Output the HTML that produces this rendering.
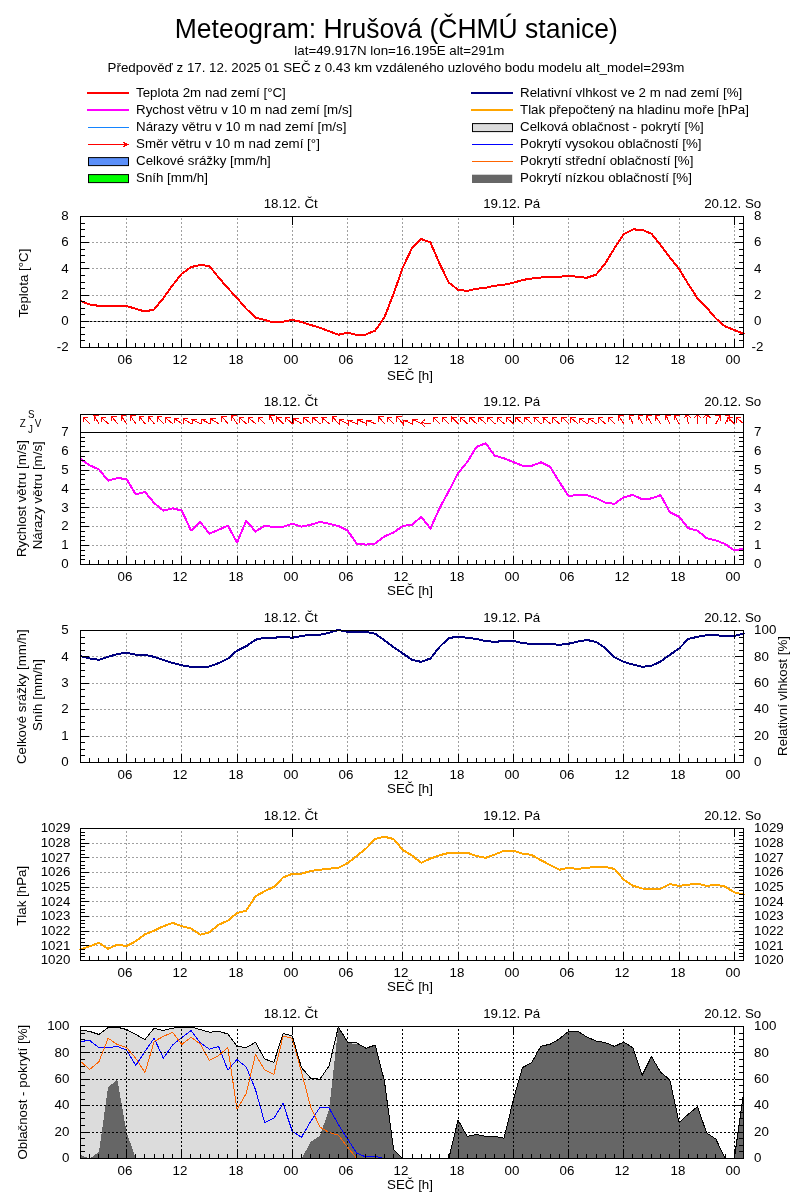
<!DOCTYPE html>
<html><head><meta charset="utf-8"><title>Meteogram: Hrušová (ČHMÚ stanice)</title>
<style>
html,body{margin:0;padding:0;background:#fff;}
svg{display:block;}
svg text{font-family:"Liberation Sans", "DejaVu Sans", sans-serif;fill:#000;}
</style></head><body>
<svg width="800" height="1200" viewBox="0 0 800 1200">
<rect width="800" height="1200" fill="#fff"/>
<text transform="translate(396.3,37.8) scale(1,1.045)" x="0" y="0" font-size="26.5" text-anchor="middle">Meteogram: Hrušová (ČHMÚ stanice)</text>
<text x="399.40" y="54.50" font-size="13.33" text-anchor="middle">lat=49.917N lon=16.195E alt=291m</text>
<text x="396.00" y="72.00" font-size="13.33" text-anchor="middle">Předpověď z 17. 12. 2025 01 SEČ z 0.43 km vzdáleného uzlového bodu modelu alt_model=293m</text>
<line x1="87" y1="93" x2="129" y2="93" stroke="#ff0000" stroke-width="2"/>
<line x1="87" y1="110" x2="129" y2="110" stroke="#ff00ff" stroke-width="2"/>
<line x1="88" y1="127.5" x2="129" y2="127.5" stroke="#1484ff" stroke-width="1"/>
<line x1="88" y1="144.5" x2="129" y2="144.5" stroke="#ff0000" stroke-width="1"/>
<path d="M123,142 L125,142 L125,143 L127,143 L127,146 L125,146 L125,147 L123,147 L123,146 L124,145.5 L124,143.5 L123,143 Z" fill="#ff0000" stroke="none" shape-rendering="crispEdges"/>
<rect x="88.5" y="157.6" width="40" height="8" fill="#5b8ff9" stroke="#000" stroke-width="1"/>
<rect x="88.5" y="174.6" width="40" height="8" fill="#00ff00" stroke="#000" stroke-width="1"/>
<line x1="471" y1="93" x2="513" y2="93" stroke="#000080" stroke-width="2"/>
<line x1="471" y1="110" x2="513" y2="110" stroke="#ffa500" stroke-width="2"/>
<rect x="472.5" y="123.6" width="40" height="8" fill="#dcdcdc" stroke="#000" stroke-width="1"/>
<line x1="472" y1="144.5" x2="513" y2="144.5" stroke="#0000ff" stroke-width="1"/>
<line x1="472" y1="161.5" x2="513" y2="161.5" stroke="#ff6400" stroke-width="1"/>
<rect x="472" y="174.7" width="40.2" height="8.3" fill="#666666"/>
<text x="136.00" y="96.60" font-size="13.33" text-anchor="start">Teplota 2m nad zemí [°C]</text>
<text x="136.00" y="113.60" font-size="13.33" text-anchor="start">Rychost větru v 10 m nad zemí [m/s]</text>
<text x="136.00" y="130.60" font-size="13.33" text-anchor="start">Nárazy větru v 10 m nad zemí [m/s]</text>
<text x="136.00" y="147.60" font-size="13.33" text-anchor="start">Směr větru v 10 m nad zemí [°]</text>
<text x="136.00" y="164.60" font-size="13.33" text-anchor="start">Celkové srážky [mm/h]</text>
<text x="136.00" y="181.60" font-size="13.33" text-anchor="start">Sníh [mm/h]</text>
<text x="520.00" y="96.60" font-size="13.33" text-anchor="start">Relativní vlhkost ve 2 m nad zemí [%]</text>
<text x="520.00" y="113.60" font-size="13.33" text-anchor="start">Tlak přepočtený na hladinu moře [hPa]</text>
<text x="520.00" y="130.60" font-size="13.33" text-anchor="start">Celková oblačnost - pokrytí [%]</text>
<text x="520.00" y="147.60" font-size="13.33" text-anchor="start">Pokrytí vysokou oblačností [%]</text>
<text x="520.00" y="164.60" font-size="13.33" text-anchor="start">Pokrytí střední oblačností [%]</text>
<text x="520.00" y="181.60" font-size="13.33" text-anchor="start">Pokrytí nízkou oblačností [%]</text>
<g>
<path d="M126.5,348V216.5M181.5,348V216.5M237.5,348V216.5M292.5,348V216.5M347.5,348V216.5M402.5,348V216.5M458.5,348V216.5M513.5,348V216.5M568.5,348V216.5M623.5,348V216.5M679.5,348V216.5M734.5,348V216.5M80,321.5H743.5M80,295.5H743.5M80,268.5H743.5M80,242.5H743.5" stroke="#a0a0a0" stroke-width="1" stroke-dasharray="2 2" fill="none"/>
<path d="M82,321.5H743.5" stroke="#000" stroke-width="1" stroke-dasharray="2 2"/>
<clipPath id="c1"><rect x="77" y="216" width="670" height="132"/></clipPath>
<polyline points="80.50,301.00 89.71,304.40 98.92,305.90 108.12,305.90 117.33,305.90 126.54,306.10 135.75,308.70 144.96,311.60 154.17,309.40 163.38,298.10 172.58,285.30 181.79,273.75 191.00,267.10 200.21,265.00 209.42,266.00 218.62,277.50 227.83,288.10 237.04,298.10 246.25,308.75 255.46,317.50 264.67,320.00 273.88,322.50 283.08,321.60 292.29,320.00 301.50,321.90 310.71,325.00 319.92,327.75 329.12,331.25 338.33,334.75 347.54,332.75 356.75,334.90 365.96,334.50 375.17,330.60 384.38,317.50 393.58,293.75 402.79,267.50 412.00,248.10 421.21,239.00 430.42,242.50 439.62,263.75 448.83,282.60 458.04,289.75 467.25,290.90 476.46,288.75 485.67,287.75 494.88,285.75 504.08,284.75 513.29,282.75 522.50,280.00 531.71,278.50 540.92,277.50 550.12,276.90 559.33,276.90 568.54,275.60 577.75,276.90 586.96,277.75 596.17,274.60 605.38,263.10 614.58,248.10 623.79,234.00 633.00,229.40 642.21,229.80 651.42,233.70 660.62,245.20 669.83,257.40 679.04,268.90 688.25,284.00 697.46,298.30 706.67,307.70 715.88,318.50 725.08,326.40 734.29,330.00 743.50,333.60" fill="none" stroke="#ff0000" stroke-width="2" stroke-linejoin="round" stroke-linecap="round" shape-rendering="crispEdges" clip-path="url(#c1)"/>
<path d="M89.5,347.5v-4.5M98.5,347.5v-4.5M108.5,347.5v-4.5M117.5,347.5v-4.5M126.5,347.5v-8.5M135.5,347.5v-4.5M144.5,347.5v-4.5M154.5,347.5v-4.5M163.5,347.5v-4.5M172.5,347.5v-4.5M181.5,347.5v-8.5M190.5,347.5v-4.5M200.5,347.5v-4.5M209.5,347.5v-4.5M218.5,347.5v-4.5M227.5,347.5v-4.5M237.5,347.5v-8.5M246.5,347.5v-4.5M255.5,347.5v-4.5M264.5,347.5v-4.5M273.5,347.5v-4.5M283.5,347.5v-4.5M292.5,347.5v-8.5M301.5,347.5v-4.5M310.5,347.5v-4.5M319.5,347.5v-4.5M329.5,347.5v-4.5M338.5,347.5v-4.5M347.5,347.5v-8.5M356.5,347.5v-4.5M365.5,347.5v-4.5M375.5,347.5v-4.5M384.5,347.5v-4.5M393.5,347.5v-4.5M402.5,347.5v-8.5M412.5,347.5v-4.5M421.5,347.5v-4.5M430.5,347.5v-4.5M439.5,347.5v-4.5M448.5,347.5v-4.5M458.5,347.5v-8.5M467.5,347.5v-4.5M476.5,347.5v-4.5M485.5,347.5v-4.5M494.5,347.5v-4.5M504.5,347.5v-4.5M513.5,347.5v-8.5M522.5,347.5v-4.5M531.5,347.5v-4.5M540.5,347.5v-4.5M550.5,347.5v-4.5M559.5,347.5v-4.5M568.5,347.5v-8.5M577.5,347.5v-4.5M586.5,347.5v-4.5M596.5,347.5v-4.5M605.5,347.5v-4.5M614.5,347.5v-4.5M623.5,347.5v-8.5M632.5,347.5v-4.5M642.5,347.5v-4.5M651.5,347.5v-4.5M660.5,347.5v-4.5M669.5,347.5v-4.5M679.5,347.5v-8.5M688.5,347.5v-4.5M697.5,347.5v-4.5M706.5,347.5v-4.5M715.5,347.5v-4.5M725.5,347.5v-4.5M734.5,347.5v-8.5M292.5,216.5v8.5M513.5,216.5v8.5M734.5,216.5v8.5M80.5,340.5h4.5M743.5,340.5h-4.5M80.5,334.5h4.5M743.5,334.5h-4.5M80.5,327.5h4.5M743.5,327.5h-4.5M80.5,321.5h8.5M743.5,321.5h-8.5M80.5,314.5h4.5M743.5,314.5h-4.5M80.5,308.5h4.5M743.5,308.5h-4.5M80.5,301.5h4.5M743.5,301.5h-4.5M80.5,295.5h8.5M743.5,295.5h-8.5M80.5,288.5h4.5M743.5,288.5h-4.5M80.5,282.5h4.5M743.5,282.5h-4.5M80.5,275.5h4.5M743.5,275.5h-4.5M80.5,268.5h8.5M743.5,268.5h-8.5M80.5,262.5h4.5M743.5,262.5h-4.5M80.5,255.5h4.5M743.5,255.5h-4.5M80.5,249.5h4.5M743.5,249.5h-4.5M80.5,242.5h8.5M743.5,242.5h-8.5M80.5,236.5h4.5M743.5,236.5h-4.5M80.5,229.5h4.5M743.5,229.5h-4.5M80.5,223.5h4.5M743.5,223.5h-4.5" stroke="#000" stroke-width="1" fill="none"/>
<rect x="80.5" y="216.5" width="663" height="131" fill="none" stroke="#000" stroke-width="1"/>
<text x="68.60" y="351.20" font-size="13.33" text-anchor="end">-2</text>
<text x="68.60" y="325.00" font-size="13.33" text-anchor="end">0</text>
<text x="68.60" y="298.80" font-size="13.33" text-anchor="end">2</text>
<text x="68.60" y="272.60" font-size="13.33" text-anchor="end">4</text>
<text x="68.60" y="246.40" font-size="13.33" text-anchor="end">6</text>
<text x="68.60" y="220.20" font-size="13.33" text-anchor="end">8</text>
<text x="751.50" y="351.20" font-size="13.33" text-anchor="start">-2</text>
<text x="754.10" y="325.00" font-size="13.33" text-anchor="start">0</text>
<text x="754.10" y="298.80" font-size="13.33" text-anchor="start">2</text>
<text x="754.10" y="272.60" font-size="13.33" text-anchor="start">4</text>
<text x="754.10" y="246.40" font-size="13.33" text-anchor="start">6</text>
<text x="754.10" y="220.20" font-size="13.33" text-anchor="start">8</text>
<text x="125.00" y="363.70" font-size="13.33" text-anchor="middle">06</text>
<text x="180.00" y="363.70" font-size="13.33" text-anchor="middle">12</text>
<text x="236.00" y="363.70" font-size="13.33" text-anchor="middle">18</text>
<text x="291.00" y="363.70" font-size="13.33" text-anchor="middle">00</text>
<text x="346.00" y="363.70" font-size="13.33" text-anchor="middle">06</text>
<text x="401.00" y="363.70" font-size="13.33" text-anchor="middle">12</text>
<text x="457.00" y="363.70" font-size="13.33" text-anchor="middle">18</text>
<text x="512.00" y="363.70" font-size="13.33" text-anchor="middle">00</text>
<text x="567.00" y="363.70" font-size="13.33" text-anchor="middle">06</text>
<text x="622.00" y="363.70" font-size="13.33" text-anchor="middle">12</text>
<text x="678.00" y="363.70" font-size="13.33" text-anchor="middle">18</text>
<text x="733.00" y="363.70" font-size="13.33" text-anchor="middle">00</text>
<text x="410.00" y="379.70" font-size="13.33" text-anchor="middle">SEČ [h]</text>
<text x="290.70" y="208.00" font-size="13.33" text-anchor="middle">18.12. Čt</text>
<text x="511.70" y="208.00" font-size="13.33" text-anchor="middle">19.12. Pá</text>
<text x="732.70" y="208.00" font-size="13.33" text-anchor="middle">20.12. So</text>
<text transform="translate(28.3,283.1) rotate(-90)" x="0" y="0" font-size="13.33" text-anchor="middle">Teplota [°C]</text>
<path d="M126.5,565V414.5M181.5,565V414.5M237.5,565V414.5M292.5,565V414.5M347.5,565V414.5M402.5,565V414.5M458.5,565V414.5M513.5,565V414.5M568.5,565V414.5M623.5,565V414.5M679.5,565V414.5M734.5,565V414.5M80,545.5H743.5M80,526.5H743.5M80,507.5H743.5M80,489.5H743.5M80,470.5H743.5M80,451.5H743.5" stroke="#a0a0a0" stroke-width="1" stroke-dasharray="2 2" fill="none"/>
<clipPath id="c2"><rect x="77" y="432" width="670" height="133"/></clipPath>
<polyline points="80.50,459.00 89.71,465.25 98.92,469.40 108.12,480.60 117.33,478.10 126.54,479.00 135.75,494.40 144.96,491.90 154.17,503.10 163.38,510.60 172.58,508.30 181.79,510.60 191.00,530.60 200.21,521.90 209.42,533.75 218.62,529.75 227.83,525.60 237.04,542.50 246.25,520.60 255.46,531.50 264.67,525.90 273.88,526.90 283.08,526.90 292.29,523.75 301.50,526.60 310.71,524.75 319.92,521.90 329.12,523.75 338.33,526.00 347.54,530.60 356.75,543.60 365.96,544.60 375.17,543.50 384.38,536.50 393.58,532.50 402.79,526.00 412.00,524.75 421.21,516.90 430.42,528.50 439.62,508.10 448.83,491.00 458.04,473.25 467.25,462.00 476.46,447.00 485.67,443.25 494.88,455.75 504.08,458.25 513.29,462.00 522.50,465.75 531.71,465.75 540.92,462.30 550.12,466.90 559.33,481.90 568.54,496.00 577.75,495.00 586.96,495.25 596.17,498.10 605.38,502.75 614.58,503.75 623.79,497.25 633.00,494.90 642.21,499.40 651.42,498.40 660.62,495.10 669.83,512.30 679.04,516.70 688.25,528.20 697.46,530.60 706.67,538.20 715.88,540.40 725.08,544.00 734.29,550.40 743.50,548.70" fill="none" stroke="#ff00ff" stroke-width="2" stroke-linejoin="round" stroke-linecap="round" shape-rendering="crispEdges" clip-path="url(#c2)"/>
<path d="M83.13,417.02L85.20,417.02L83.13,419.09ZM94.13,415.63L96.20,415.63L94.13,417.70ZM101.21,417.38L103.28,417.38L101.21,419.45ZM111.61,416.27L113.68,416.27L111.61,418.34ZM121.21,415.98L123.28,415.98L121.21,418.05ZM130.42,415.98L132.49,415.98L130.42,418.05ZM139.23,416.27L141.30,416.27L139.23,418.34ZM148.19,416.48L150.26,416.48L148.19,418.55ZM157.15,416.69L159.22,416.69L157.15,418.76ZM165.46,417.62L167.53,417.62L165.46,419.69ZM174.17,418.27L176.24,418.27L174.17,420.34ZM183.11,418.67L185.18,418.67L183.11,420.74ZM192.00,419.23L194.07,419.23L192.00,421.30ZM201.21,419.23L203.28,419.23L201.21,421.30ZM210.57,418.95L212.64,418.95L210.57,421.02ZM221.86,416.48L223.93,416.48L221.86,418.55ZM231.71,415.98L233.78,415.98L231.71,418.05ZM239.13,417.62L241.20,417.62L239.13,419.69ZM248.33,417.62L250.40,417.62L248.33,419.69ZM258.09,417.02L260.16,417.02L258.09,419.09ZM269.94,415.17L272.01,415.17L269.94,417.24ZM276.51,417.02L278.58,417.02L276.51,419.09ZM285.38,417.38L287.45,417.38L285.38,419.45ZM293.53,418.81L295.60,418.81L293.53,420.88ZM303.58,417.62L305.65,417.62L303.58,419.69ZM312.79,417.62L314.86,417.62L312.79,419.69ZM322.00,417.62L324.07,417.62L322.00,419.69ZM332.36,416.48L334.43,416.48L332.36,418.55ZM339.11,419.67L341.18,419.67L339.11,421.74ZM348.01,420.42L350.08,420.42L348.01,422.49ZM357.53,419.67L359.60,419.67L357.53,421.74ZM366.43,420.42L368.50,420.42L366.43,422.49ZM378.40,416.48L380.47,416.48L378.40,418.55ZM387.01,417.02L389.08,417.02L387.01,419.09ZM396.81,416.48L398.88,416.48L396.81,418.55ZM403.26,420.42L405.33,420.42L403.26,422.49ZM412.78,419.67L414.85,419.67L412.78,421.74ZM421.15,422.79L422.48,424.38L422.74,421.46ZM433.05,417.02L435.12,417.02L433.05,419.09ZM442.26,417.02L444.33,417.02L442.26,419.09ZM451.47,417.02L453.54,417.02L451.47,419.09ZM460.34,417.38L462.41,417.38L460.34,419.45ZM469.55,417.38L471.62,417.38L469.55,419.45ZM478.76,417.38L480.83,417.38L478.76,419.45ZM487.96,417.38L490.03,417.38L487.96,419.45ZM497.17,417.38L499.24,417.38L497.17,419.45ZM506.38,417.38L508.45,417.38L506.38,419.45ZM515.59,417.38L517.66,417.38L515.59,419.45ZM524.80,417.38L526.87,417.38L524.80,419.45ZM534.01,417.38L536.08,417.38L534.01,419.45ZM543.00,417.62L545.07,417.62L543.00,419.69ZM552.21,417.62L554.28,417.62L552.21,419.69ZM561.97,417.02L564.04,417.02L561.97,419.09ZM570.63,417.62L572.70,417.62L570.63,419.69ZM579.34,418.27L581.41,418.27L579.34,420.34ZM588.55,418.27L590.62,418.27L588.55,420.34ZM598.25,417.62L600.32,417.62L598.25,419.69ZM608.01,417.02L610.08,417.02L608.01,419.09ZM618.46,415.98L620.53,415.98L618.46,418.05ZM629.07,415.17L631.14,415.17L629.07,417.24ZM638.28,415.17L640.35,415.17L638.28,417.24ZM646.77,415.55L648.84,415.55L646.77,417.62ZM655.29,415.98L657.36,415.98L655.29,418.05ZM665.90,415.17L667.97,415.17L665.90,417.24ZM674.68,415.39L676.75,415.39L674.68,417.46ZM686.64,414.44L685.45,416.14L688.33,415.63ZM697.46,414.30L695.99,415.76L698.92,415.76ZM707.15,414.31L705.62,415.70L708.54,415.85ZM720.52,415.55L718.45,415.55L720.52,417.62ZM729.73,415.55L727.66,415.55L729.73,417.62ZM727.72,417.02L729.79,417.02L727.72,419.09ZM736.38,417.62L738.45,417.62L736.38,419.69Z" fill="#ff0000" stroke="none"/>
<path d="M89.71,423.60L83.13,417.02M87.73,417.02L83.13,417.02L83.13,421.62M98.92,423.60L94.13,415.63M98.73,415.63L94.13,415.63L94.13,420.23M108.12,423.60L101.21,417.38M105.81,417.38L101.21,417.38L101.21,421.98M117.33,423.60L111.61,416.27M116.21,416.27L111.61,416.27L111.61,420.87M126.54,423.60L121.21,415.98M125.81,415.98L121.21,415.98L121.21,420.58M135.75,423.60L130.42,415.98M135.02,415.98L130.42,415.98L130.42,420.58M144.96,423.60L139.23,416.27M143.83,416.27L139.23,416.27L139.23,420.87M154.17,423.60L148.19,416.48M152.79,416.48L148.19,416.48L148.19,421.08M163.38,423.60L157.15,416.69M161.75,416.69L157.15,416.69L157.15,421.29M172.58,423.60L165.46,417.62M170.06,417.62L165.46,417.62L165.46,422.22M181.79,423.60L174.17,418.27M178.77,418.27L174.17,418.27L174.17,422.87M191.00,423.60L183.11,418.67M187.71,418.67L183.11,418.67L183.11,423.27M200.21,423.60L192.00,419.23M196.60,419.23L192.00,419.23L192.00,423.83M209.42,423.60L201.21,419.23M205.81,419.23L201.21,419.23L201.21,423.83M218.62,423.60L210.57,418.95M215.17,418.95L210.57,418.95L210.57,423.55M227.83,423.60L221.86,416.48M226.46,416.48L221.86,416.48L221.86,421.08M237.04,423.60L231.71,415.98M236.31,415.98L231.71,415.98L231.71,420.58M246.25,423.60L239.13,417.62M243.73,417.62L239.13,417.62L239.13,422.22M255.46,423.60L248.33,417.62M252.93,417.62L248.33,417.62L248.33,422.22M264.67,423.60L258.09,417.02M262.69,417.02L258.09,417.02L258.09,421.62M273.88,423.60L269.94,415.17M274.54,415.17L269.94,415.17L269.94,419.77M283.08,423.60L276.51,417.02M281.11,417.02L276.51,417.02L276.51,421.62M292.29,423.60L285.38,417.38M289.98,417.38L285.38,417.38L285.38,421.98M301.50,423.60L293.53,418.81M298.13,418.81L293.53,418.81L293.53,423.41M310.71,423.60L303.58,417.62M308.18,417.62L303.58,417.62L303.58,422.22M319.92,423.60L312.79,417.62M317.39,417.62L312.79,417.62L312.79,422.22M329.12,423.60L322.00,417.62M326.60,417.62L322.00,417.62L322.00,422.22M338.33,423.60L332.36,416.48M336.96,416.48L332.36,416.48L332.36,421.08M347.54,423.60L339.11,419.67M343.71,419.67L339.11,419.67L339.11,424.27M356.75,423.60L348.01,420.42M352.61,420.42L348.01,420.42L348.01,425.02M365.96,423.60L357.53,419.67M362.13,419.67L357.53,419.67L357.53,424.27M375.17,423.60L366.43,420.42M371.03,420.42L366.43,420.42L366.43,425.02M384.38,423.60L378.40,416.48M383.00,416.48L378.40,416.48L378.40,421.08M393.58,423.60L387.01,417.02M391.61,417.02L387.01,417.02L387.01,421.62M402.79,423.60L396.81,416.48M401.41,416.48L396.81,416.48L396.81,421.08M412.00,423.60L403.26,420.42M407.86,420.42L403.26,420.42L403.26,425.02M421.21,423.60L412.78,419.67M417.38,419.67L412.78,419.67L412.78,424.27M430.42,423.60L421.15,422.79M424.11,426.31L421.15,422.79L424.68,419.83M439.62,423.60L433.05,417.02M437.65,417.02L433.05,417.02L433.05,421.62M448.83,423.60L442.26,417.02M446.86,417.02L442.26,417.02L442.26,421.62M458.04,423.60L451.47,417.02M456.07,417.02L451.47,417.02L451.47,421.62M467.25,423.60L460.34,417.38M464.94,417.38L460.34,417.38L460.34,421.98M476.46,423.60L469.55,417.38M474.15,417.38L469.55,417.38L469.55,421.98M485.67,423.60L478.76,417.38M483.36,417.38L478.76,417.38L478.76,421.98M494.88,423.60L487.96,417.38M492.56,417.38L487.96,417.38L487.96,421.98M504.08,423.60L497.17,417.38M501.77,417.38L497.17,417.38L497.17,421.98M513.29,423.60L506.38,417.38M510.98,417.38L506.38,417.38L506.38,421.98M522.50,423.60L515.59,417.38M520.19,417.38L515.59,417.38L515.59,421.98M531.71,423.60L524.80,417.38M529.40,417.38L524.80,417.38L524.80,421.98M540.92,423.60L534.01,417.38M538.61,417.38L534.01,417.38L534.01,421.98M550.12,423.60L543.00,417.62M547.60,417.62L543.00,417.62L543.00,422.22M559.33,423.60L552.21,417.62M556.81,417.62L552.21,417.62L552.21,422.22M568.54,423.60L561.97,417.02M566.57,417.02L561.97,417.02L561.97,421.62M577.75,423.60L570.63,417.62M575.23,417.62L570.63,417.62L570.63,422.22M586.96,423.60L579.34,418.27M583.94,418.27L579.34,418.27L579.34,422.87M596.17,423.60L588.55,418.27M593.15,418.27L588.55,418.27L588.55,422.87M605.38,423.60L598.25,417.62M602.85,417.62L598.25,417.62L598.25,422.22M614.58,423.60L608.01,417.02M612.61,417.02L608.01,417.02L608.01,421.62M623.79,423.60L618.46,415.98M623.06,415.98L618.46,415.98L618.46,420.58M633.00,423.60L629.07,415.17M633.67,415.17L629.07,415.17L629.07,419.77M642.21,423.60L638.28,415.17M642.88,415.17L638.28,415.17L638.28,419.77M651.42,423.60L646.77,415.55M651.37,415.55L646.77,415.55L646.77,420.15M660.62,423.60L655.29,415.98M659.89,415.98L655.29,415.98L655.29,420.58M669.83,423.60L665.90,415.17M670.50,415.17L665.90,415.17L665.90,419.77M679.04,423.60L674.68,415.39M679.28,415.39L674.68,415.39L674.68,419.99M688.25,423.60L686.64,414.44M684.00,418.21L686.64,414.44L690.40,417.08M697.46,423.60L697.46,414.30M694.21,417.55L697.46,414.30L700.71,417.55M706.67,423.60L707.15,414.31M703.73,417.39L707.15,414.31L710.23,417.73M715.88,423.60L720.52,415.55M715.92,415.55L720.52,415.55L720.52,420.15M725.08,423.60L729.73,415.55M725.13,415.55L729.73,415.55L729.73,420.15M734.29,423.60L727.72,417.02M732.32,417.02L727.72,417.02L727.72,421.62M743.50,423.60L736.38,417.62M740.98,417.62L736.38,417.62L736.38,422.22" stroke="#ff0000" stroke-width="1" fill="none" stroke-linecap="square" shape-rendering="crispEdges"/>
<path d="M89.5,564.5v-4.5M98.5,564.5v-4.5M108.5,564.5v-4.5M117.5,564.5v-4.5M126.5,564.5v-8.5M135.5,564.5v-4.5M144.5,564.5v-4.5M154.5,564.5v-4.5M163.5,564.5v-4.5M172.5,564.5v-4.5M181.5,564.5v-8.5M190.5,564.5v-4.5M200.5,564.5v-4.5M209.5,564.5v-4.5M218.5,564.5v-4.5M227.5,564.5v-4.5M237.5,564.5v-8.5M246.5,564.5v-4.5M255.5,564.5v-4.5M264.5,564.5v-4.5M273.5,564.5v-4.5M283.5,564.5v-4.5M292.5,564.5v-8.5M301.5,564.5v-4.5M310.5,564.5v-4.5M319.5,564.5v-4.5M329.5,564.5v-4.5M338.5,564.5v-4.5M347.5,564.5v-8.5M356.5,564.5v-4.5M365.5,564.5v-4.5M375.5,564.5v-4.5M384.5,564.5v-4.5M393.5,564.5v-4.5M402.5,564.5v-8.5M412.5,564.5v-4.5M421.5,564.5v-4.5M430.5,564.5v-4.5M439.5,564.5v-4.5M448.5,564.5v-4.5M458.5,564.5v-8.5M467.5,564.5v-4.5M476.5,564.5v-4.5M485.5,564.5v-4.5M494.5,564.5v-4.5M504.5,564.5v-4.5M513.5,564.5v-8.5M522.5,564.5v-4.5M531.5,564.5v-4.5M540.5,564.5v-4.5M550.5,564.5v-4.5M559.5,564.5v-4.5M568.5,564.5v-8.5M577.5,564.5v-4.5M586.5,564.5v-4.5M596.5,564.5v-4.5M605.5,564.5v-4.5M614.5,564.5v-4.5M623.5,564.5v-8.5M632.5,564.5v-4.5M642.5,564.5v-4.5M651.5,564.5v-4.5M660.5,564.5v-4.5M669.5,564.5v-4.5M679.5,564.5v-8.5M688.5,564.5v-4.5M697.5,564.5v-4.5M706.5,564.5v-4.5M715.5,564.5v-4.5M725.5,564.5v-4.5M734.5,564.5v-8.5M292.5,414.5v8.5M513.5,414.5v8.5M734.5,414.5v8.5M80.5,559.5h4.5M743.5,559.5h-4.5M80.5,555.5h4.5M743.5,555.5h-4.5M80.5,550.5h4.5M743.5,550.5h-4.5M80.5,545.5h8.5M743.5,545.5h-8.5M80.5,540.5h4.5M743.5,540.5h-4.5M80.5,536.5h4.5M743.5,536.5h-4.5M80.5,531.5h4.5M743.5,531.5h-4.5M80.5,526.5h8.5M743.5,526.5h-8.5M80.5,522.5h4.5M743.5,522.5h-4.5M80.5,517.5h4.5M743.5,517.5h-4.5M80.5,512.5h4.5M743.5,512.5h-4.5M80.5,507.5h8.5M743.5,507.5h-8.5M80.5,503.5h4.5M743.5,503.5h-4.5M80.5,498.5h4.5M743.5,498.5h-4.5M80.5,493.5h4.5M743.5,493.5h-4.5M80.5,489.5h8.5M743.5,489.5h-8.5M80.5,484.5h4.5M743.5,484.5h-4.5M80.5,479.5h4.5M743.5,479.5h-4.5M80.5,474.5h4.5M743.5,474.5h-4.5M80.5,470.5h8.5M743.5,470.5h-8.5M80.5,465.5h4.5M743.5,465.5h-4.5M80.5,460.5h4.5M743.5,460.5h-4.5M80.5,456.5h4.5M743.5,456.5h-4.5M80.5,451.5h8.5M743.5,451.5h-8.5M80.5,446.5h4.5M743.5,446.5h-4.5M80.5,441.5h4.5M743.5,441.5h-4.5M80.5,437.5h4.5M743.5,437.5h-4.5" stroke="#000" stroke-width="1" fill="none"/>
<rect x="80.5" y="414.5" width="663" height="150" fill="none" stroke="#000" stroke-width="1"/>
<path d="M80.5,432.5H743.5" stroke="#000" stroke-width="1"/>
<text x="68.60" y="568.20" font-size="13.33" text-anchor="end">0</text>
<text x="68.60" y="549.34" font-size="13.33" text-anchor="end">1</text>
<text x="68.60" y="530.49" font-size="13.33" text-anchor="end">2</text>
<text x="68.60" y="511.63" font-size="13.33" text-anchor="end">3</text>
<text x="68.60" y="492.77" font-size="13.33" text-anchor="end">4</text>
<text x="68.60" y="473.91" font-size="13.33" text-anchor="end">5</text>
<text x="68.60" y="455.06" font-size="13.33" text-anchor="end">6</text>
<text x="68.60" y="436.20" font-size="13.33" text-anchor="end">7</text>
<text x="754.10" y="568.20" font-size="13.33" text-anchor="start">0</text>
<text x="754.10" y="549.34" font-size="13.33" text-anchor="start">1</text>
<text x="754.10" y="530.49" font-size="13.33" text-anchor="start">2</text>
<text x="754.10" y="511.63" font-size="13.33" text-anchor="start">3</text>
<text x="754.10" y="492.77" font-size="13.33" text-anchor="start">4</text>
<text x="754.10" y="473.91" font-size="13.33" text-anchor="start">5</text>
<text x="754.10" y="455.06" font-size="13.33" text-anchor="start">6</text>
<text x="754.10" y="436.20" font-size="13.33" text-anchor="start">7</text>
<text x="125.00" y="580.70" font-size="13.33" text-anchor="middle">06</text>
<text x="180.00" y="580.70" font-size="13.33" text-anchor="middle">12</text>
<text x="236.00" y="580.70" font-size="13.33" text-anchor="middle">18</text>
<text x="291.00" y="580.70" font-size="13.33" text-anchor="middle">00</text>
<text x="346.00" y="580.70" font-size="13.33" text-anchor="middle">06</text>
<text x="401.00" y="580.70" font-size="13.33" text-anchor="middle">12</text>
<text x="457.00" y="580.70" font-size="13.33" text-anchor="middle">18</text>
<text x="512.00" y="580.70" font-size="13.33" text-anchor="middle">00</text>
<text x="567.00" y="580.70" font-size="13.33" text-anchor="middle">06</text>
<text x="622.00" y="580.70" font-size="13.33" text-anchor="middle">12</text>
<text x="678.00" y="580.70" font-size="13.33" text-anchor="middle">18</text>
<text x="733.00" y="580.70" font-size="13.33" text-anchor="middle">00</text>
<text x="410.00" y="595.20" font-size="13.33" text-anchor="middle">SEČ [h]</text>
<text x="290.70" y="406.00" font-size="13.33" text-anchor="middle">18.12. Čt</text>
<text x="511.70" y="406.00" font-size="13.33" text-anchor="middle">19.12. Pá</text>
<text x="732.70" y="406.00" font-size="13.33" text-anchor="middle">20.12. So</text>
<text transform="translate(25.8,498.6) rotate(-90)" x="0" y="0" font-size="13.33" text-anchor="middle">Rychlost větru [m/s]</text>
<text transform="translate(42.2,495.3) rotate(-90)" x="0" y="0" font-size="13.33" text-anchor="middle">Nárazy větru [m/s]</text>
<text transform="translate(31.2,417.8) scale(1,1.03)" x="0" y="0" font-size="9.8" text-anchor="middle">S</text>
<text transform="translate(22.7,426.8) scale(1,1.03)" x="0" y="0" font-size="9.8" text-anchor="middle">Z</text>
<text transform="translate(30.4,432.6) scale(1,1.03)" x="0" y="0" font-size="9.8" text-anchor="middle">J</text>
<text transform="translate(38.0,426.9) scale(1,1.03)" x="0" y="0" font-size="9.8" text-anchor="middle">V</text>
<path d="M126.5,763V630.5M181.5,763V630.5M237.5,763V630.5M292.5,763V630.5M347.5,763V630.5M402.5,763V630.5M458.5,763V630.5M513.5,763V630.5M568.5,763V630.5M623.5,763V630.5M679.5,763V630.5M734.5,763V630.5M80,736.5H743.5M80,709.5H743.5M80,683.5H743.5M80,656.5H743.5" stroke="#a0a0a0" stroke-width="1" stroke-dasharray="2 2" fill="none"/>
<clipPath id="c3"><rect x="77" y="629" width="670" height="134"/></clipPath>
<polyline points="80.50,656.00 89.71,658.50 98.92,659.75 108.12,656.90 117.33,654.00 126.54,652.75 135.75,654.75 144.96,654.75 154.17,656.90 163.38,660.00 172.58,662.90 181.79,665.25 191.00,666.90 200.21,666.90 209.42,666.50 218.62,663.10 227.83,658.75 237.04,650.60 246.25,646.25 255.46,639.75 264.67,637.75 273.88,637.75 283.08,636.90 292.29,637.75 301.50,636.00 310.71,634.75 319.92,634.75 329.12,632.75 338.33,630.00 347.54,631.90 356.75,631.90 365.96,631.90 375.17,633.75 384.38,640.25 393.58,647.25 402.79,653.50 412.00,659.75 421.21,661.90 430.42,658.50 439.62,646.90 448.83,637.90 458.04,636.90 467.25,637.75 476.46,639.00 485.67,641.00 494.88,641.90 504.08,640.90 513.29,640.90 522.50,643.10 531.71,644.00 540.92,644.00 550.12,644.00 559.33,644.75 568.54,643.75 577.75,641.60 586.96,640.00 596.17,641.90 605.38,648.10 614.58,657.25 623.79,661.90 633.00,664.60 642.21,666.85 651.42,665.80 660.62,661.50 669.83,654.80 679.04,648.60 688.25,639.00 697.46,636.80 706.67,635.20 715.88,635.20 725.08,636.00 734.29,636.00 743.50,633.50" fill="none" stroke="#000080" stroke-width="2" stroke-linejoin="round" stroke-linecap="round" shape-rendering="crispEdges" clip-path="url(#c3)"/>
<path d="M89.5,762.5v-4.5M98.5,762.5v-4.5M108.5,762.5v-4.5M117.5,762.5v-4.5M126.5,762.5v-8.5M135.5,762.5v-4.5M144.5,762.5v-4.5M154.5,762.5v-4.5M163.5,762.5v-4.5M172.5,762.5v-4.5M181.5,762.5v-8.5M190.5,762.5v-4.5M200.5,762.5v-4.5M209.5,762.5v-4.5M218.5,762.5v-4.5M227.5,762.5v-4.5M237.5,762.5v-8.5M246.5,762.5v-4.5M255.5,762.5v-4.5M264.5,762.5v-4.5M273.5,762.5v-4.5M283.5,762.5v-4.5M292.5,762.5v-8.5M301.5,762.5v-4.5M310.5,762.5v-4.5M319.5,762.5v-4.5M329.5,762.5v-4.5M338.5,762.5v-4.5M347.5,762.5v-8.5M356.5,762.5v-4.5M365.5,762.5v-4.5M375.5,762.5v-4.5M384.5,762.5v-4.5M393.5,762.5v-4.5M402.5,762.5v-8.5M412.5,762.5v-4.5M421.5,762.5v-4.5M430.5,762.5v-4.5M439.5,762.5v-4.5M448.5,762.5v-4.5M458.5,762.5v-8.5M467.5,762.5v-4.5M476.5,762.5v-4.5M485.5,762.5v-4.5M494.5,762.5v-4.5M504.5,762.5v-4.5M513.5,762.5v-8.5M522.5,762.5v-4.5M531.5,762.5v-4.5M540.5,762.5v-4.5M550.5,762.5v-4.5M559.5,762.5v-4.5M568.5,762.5v-8.5M577.5,762.5v-4.5M586.5,762.5v-4.5M596.5,762.5v-4.5M605.5,762.5v-4.5M614.5,762.5v-4.5M623.5,762.5v-8.5M632.5,762.5v-4.5M642.5,762.5v-4.5M651.5,762.5v-4.5M660.5,762.5v-4.5M669.5,762.5v-4.5M679.5,762.5v-8.5M688.5,762.5v-4.5M697.5,762.5v-4.5M706.5,762.5v-4.5M715.5,762.5v-4.5M725.5,762.5v-4.5M734.5,762.5v-8.5M292.5,630.5v8.5M513.5,630.5v8.5M734.5,630.5v8.5M80.5,755.5h4.5M743.5,755.5h-4.5M80.5,749.5h4.5M743.5,749.5h-4.5M80.5,742.5h4.5M743.5,742.5h-4.5M80.5,736.5h8.5M743.5,736.5h-8.5M80.5,729.5h4.5M743.5,729.5h-4.5M80.5,722.5h4.5M743.5,722.5h-4.5M80.5,716.5h4.5M743.5,716.5h-4.5M80.5,709.5h8.5M743.5,709.5h-8.5M80.5,703.5h4.5M743.5,703.5h-4.5M80.5,696.5h4.5M743.5,696.5h-4.5M80.5,689.5h4.5M743.5,689.5h-4.5M80.5,683.5h8.5M743.5,683.5h-8.5M80.5,676.5h4.5M743.5,676.5h-4.5M80.5,670.5h4.5M743.5,670.5h-4.5M80.5,663.5h4.5M743.5,663.5h-4.5M80.5,656.5h8.5M743.5,656.5h-8.5M80.5,650.5h4.5M743.5,650.5h-4.5M80.5,643.5h4.5M743.5,643.5h-4.5M80.5,637.5h4.5M743.5,637.5h-4.5" stroke="#000" stroke-width="1" fill="none"/>
<rect x="80.5" y="630.5" width="663" height="132" fill="none" stroke="#000" stroke-width="1"/>
<text x="68.60" y="766.20" font-size="13.33" text-anchor="end">0</text>
<text x="68.60" y="739.80" font-size="13.33" text-anchor="end">1</text>
<text x="68.60" y="713.40" font-size="13.33" text-anchor="end">2</text>
<text x="68.60" y="687.00" font-size="13.33" text-anchor="end">3</text>
<text x="68.60" y="660.60" font-size="13.33" text-anchor="end">4</text>
<text x="68.60" y="634.20" font-size="13.33" text-anchor="end">5</text>
<text x="754.10" y="766.20" font-size="13.33" text-anchor="start">0</text>
<text x="754.10" y="739.80" font-size="13.33" text-anchor="start">20</text>
<text x="754.10" y="713.40" font-size="13.33" text-anchor="start">40</text>
<text x="754.10" y="687.00" font-size="13.33" text-anchor="start">60</text>
<text x="754.10" y="660.60" font-size="13.33" text-anchor="start">80</text>
<text x="754.10" y="634.20" font-size="13.33" text-anchor="start">100</text>
<text x="125.00" y="778.70" font-size="13.33" text-anchor="middle">06</text>
<text x="180.00" y="778.70" font-size="13.33" text-anchor="middle">12</text>
<text x="236.00" y="778.70" font-size="13.33" text-anchor="middle">18</text>
<text x="291.00" y="778.70" font-size="13.33" text-anchor="middle">00</text>
<text x="346.00" y="778.70" font-size="13.33" text-anchor="middle">06</text>
<text x="401.00" y="778.70" font-size="13.33" text-anchor="middle">12</text>
<text x="457.00" y="778.70" font-size="13.33" text-anchor="middle">18</text>
<text x="512.00" y="778.70" font-size="13.33" text-anchor="middle">00</text>
<text x="567.00" y="778.70" font-size="13.33" text-anchor="middle">06</text>
<text x="622.00" y="778.70" font-size="13.33" text-anchor="middle">12</text>
<text x="678.00" y="778.70" font-size="13.33" text-anchor="middle">18</text>
<text x="733.00" y="778.70" font-size="13.33" text-anchor="middle">00</text>
<text x="410.00" y="793.20" font-size="13.33" text-anchor="middle">SEČ [h]</text>
<text x="290.70" y="622.00" font-size="13.33" text-anchor="middle">18.12. Čt</text>
<text x="511.70" y="622.00" font-size="13.33" text-anchor="middle">19.12. Pá</text>
<text x="732.70" y="622.00" font-size="13.33" text-anchor="middle">20.12. So</text>
<text transform="translate(25.85,696.7) rotate(-90)" x="0" y="0" font-size="13.33" text-anchor="middle">Celkové srážky [mm/h]</text>
<text transform="translate(42.3,695) rotate(-90)" x="0" y="0" font-size="13.33" text-anchor="middle">Sníh [mm/h]</text>
<text transform="translate(786.9,696) rotate(-90)" x="0" y="0" font-size="13.33" text-anchor="middle">Relativní vlhkost [%]</text>
<path d="M126.5,961V828.5M181.5,961V828.5M237.5,961V828.5M292.5,961V828.5M347.5,961V828.5M402.5,961V828.5M458.5,961V828.5M513.5,961V828.5M568.5,961V828.5M623.5,961V828.5M679.5,961V828.5M734.5,961V828.5M80,945.5H743.5M80,931.5H743.5M80,916.5H743.5M80,901.5H743.5M80,887.5H743.5M80,872.5H743.5M80,857.5H743.5M80,843.5H743.5" stroke="#a0a0a0" stroke-width="1" stroke-dasharray="2 2" fill="none"/>
<clipPath id="c4"><rect x="77" y="828" width="670" height="133"/></clipPath>
<polyline points="80.50,949.40 89.71,946.25 98.92,942.90 108.12,948.75 117.33,944.75 126.54,946.00 135.75,941.25 144.96,934.40 154.17,930.60 163.38,926.25 172.58,922.80 181.79,926.25 191.00,928.50 200.21,934.75 209.42,932.25 218.62,924.75 227.83,920.60 237.04,913.10 246.25,910.60 255.46,896.25 264.67,891.20 273.88,886.90 283.08,877.50 292.29,873.75 301.50,873.75 310.71,871.00 319.92,869.75 329.12,868.75 338.33,867.75 347.54,863.10 356.75,856.00 365.96,848.60 375.17,839.00 384.38,836.75 393.58,839.00 402.79,849.90 412.00,855.50 421.21,862.75 430.42,858.60 439.62,855.25 448.83,852.90 458.04,852.75 467.25,852.75 476.46,856.10 485.67,857.75 494.88,854.50 504.08,850.75 513.29,850.75 522.50,853.60 531.71,854.90 540.92,860.20 550.12,865.00 559.33,869.75 568.54,867.75 577.75,869.00 586.96,867.75 596.17,866.90 605.38,866.90 614.58,869.00 623.79,879.75 633.00,885.80 642.21,888.50 651.42,888.75 660.62,888.75 669.83,884.10 679.04,885.90 688.25,884.70 697.46,883.70 706.67,885.90 715.88,884.70 725.08,886.60 734.29,892.30 743.50,894.50" fill="none" stroke="#ffa500" stroke-width="2" stroke-linejoin="round" stroke-linecap="round" shape-rendering="crispEdges" clip-path="url(#c4)"/>
<path d="M89.5,960.5v-4.5M98.5,960.5v-4.5M108.5,960.5v-4.5M117.5,960.5v-4.5M126.5,960.5v-8.5M135.5,960.5v-4.5M144.5,960.5v-4.5M154.5,960.5v-4.5M163.5,960.5v-4.5M172.5,960.5v-4.5M181.5,960.5v-8.5M190.5,960.5v-4.5M200.5,960.5v-4.5M209.5,960.5v-4.5M218.5,960.5v-4.5M227.5,960.5v-4.5M237.5,960.5v-8.5M246.5,960.5v-4.5M255.5,960.5v-4.5M264.5,960.5v-4.5M273.5,960.5v-4.5M283.5,960.5v-4.5M292.5,960.5v-8.5M301.5,960.5v-4.5M310.5,960.5v-4.5M319.5,960.5v-4.5M329.5,960.5v-4.5M338.5,960.5v-4.5M347.5,960.5v-8.5M356.5,960.5v-4.5M365.5,960.5v-4.5M375.5,960.5v-4.5M384.5,960.5v-4.5M393.5,960.5v-4.5M402.5,960.5v-8.5M412.5,960.5v-4.5M421.5,960.5v-4.5M430.5,960.5v-4.5M439.5,960.5v-4.5M448.5,960.5v-4.5M458.5,960.5v-8.5M467.5,960.5v-4.5M476.5,960.5v-4.5M485.5,960.5v-4.5M494.5,960.5v-4.5M504.5,960.5v-4.5M513.5,960.5v-8.5M522.5,960.5v-4.5M531.5,960.5v-4.5M540.5,960.5v-4.5M550.5,960.5v-4.5M559.5,960.5v-4.5M568.5,960.5v-8.5M577.5,960.5v-4.5M586.5,960.5v-4.5M596.5,960.5v-4.5M605.5,960.5v-4.5M614.5,960.5v-4.5M623.5,960.5v-8.5M632.5,960.5v-4.5M642.5,960.5v-4.5M651.5,960.5v-4.5M660.5,960.5v-4.5M669.5,960.5v-4.5M679.5,960.5v-8.5M688.5,960.5v-4.5M697.5,960.5v-4.5M706.5,960.5v-4.5M715.5,960.5v-4.5M725.5,960.5v-4.5M734.5,960.5v-8.5M292.5,828.5v8.5M513.5,828.5v8.5M734.5,828.5v8.5M80.5,956.5h4.5M743.5,956.5h-4.5M80.5,953.5h4.5M743.5,953.5h-4.5M80.5,949.5h4.5M743.5,949.5h-4.5M80.5,945.5h8.5M743.5,945.5h-8.5M80.5,942.5h4.5M743.5,942.5h-4.5M80.5,938.5h4.5M743.5,938.5h-4.5M80.5,934.5h4.5M743.5,934.5h-4.5M80.5,931.5h8.5M743.5,931.5h-8.5M80.5,927.5h4.5M743.5,927.5h-4.5M80.5,923.5h4.5M743.5,923.5h-4.5M80.5,920.5h4.5M743.5,920.5h-4.5M80.5,916.5h8.5M743.5,916.5h-8.5M80.5,912.5h4.5M743.5,912.5h-4.5M80.5,909.5h4.5M743.5,909.5h-4.5M80.5,905.5h4.5M743.5,905.5h-4.5M80.5,901.5h8.5M743.5,901.5h-8.5M80.5,898.5h4.5M743.5,898.5h-4.5M80.5,894.5h4.5M743.5,894.5h-4.5M80.5,890.5h4.5M743.5,890.5h-4.5M80.5,887.5h8.5M743.5,887.5h-8.5M80.5,883.5h4.5M743.5,883.5h-4.5M80.5,879.5h4.5M743.5,879.5h-4.5M80.5,876.5h4.5M743.5,876.5h-4.5M80.5,872.5h8.5M743.5,872.5h-8.5M80.5,868.5h4.5M743.5,868.5h-4.5M80.5,865.5h4.5M743.5,865.5h-4.5M80.5,861.5h4.5M743.5,861.5h-4.5M80.5,857.5h8.5M743.5,857.5h-8.5M80.5,854.5h4.5M743.5,854.5h-4.5M80.5,850.5h4.5M743.5,850.5h-4.5M80.5,846.5h4.5M743.5,846.5h-4.5M80.5,843.5h8.5M743.5,843.5h-8.5M80.5,839.5h4.5M743.5,839.5h-4.5M80.5,835.5h4.5M743.5,835.5h-4.5M80.5,832.5h4.5M743.5,832.5h-4.5" stroke="#000" stroke-width="1" fill="none"/>
<rect x="80.5" y="828.5" width="663" height="132" fill="none" stroke="#000" stroke-width="1"/>
<text x="70.30" y="964.20" font-size="13.33" text-anchor="end">1020</text>
<text x="70.30" y="949.53" font-size="13.33" text-anchor="end">1021</text>
<text x="70.30" y="934.87" font-size="13.33" text-anchor="end">1022</text>
<text x="70.30" y="920.20" font-size="13.33" text-anchor="end">1023</text>
<text x="70.30" y="905.53" font-size="13.33" text-anchor="end">1024</text>
<text x="70.30" y="890.87" font-size="13.33" text-anchor="end">1025</text>
<text x="70.30" y="876.20" font-size="13.33" text-anchor="end">1026</text>
<text x="70.30" y="861.53" font-size="13.33" text-anchor="end">1027</text>
<text x="70.30" y="846.87" font-size="13.33" text-anchor="end">1028</text>
<text x="70.30" y="832.20" font-size="13.33" text-anchor="end">1029</text>
<text x="754.10" y="964.20" font-size="13.33" text-anchor="start">1020</text>
<text x="754.10" y="949.53" font-size="13.33" text-anchor="start">1021</text>
<text x="754.10" y="934.87" font-size="13.33" text-anchor="start">1022</text>
<text x="754.10" y="920.20" font-size="13.33" text-anchor="start">1023</text>
<text x="754.10" y="905.53" font-size="13.33" text-anchor="start">1024</text>
<text x="754.10" y="890.87" font-size="13.33" text-anchor="start">1025</text>
<text x="754.10" y="876.20" font-size="13.33" text-anchor="start">1026</text>
<text x="754.10" y="861.53" font-size="13.33" text-anchor="start">1027</text>
<text x="754.10" y="846.87" font-size="13.33" text-anchor="start">1028</text>
<text x="754.10" y="832.20" font-size="13.33" text-anchor="start">1029</text>
<text x="125.00" y="976.70" font-size="13.33" text-anchor="middle">06</text>
<text x="180.00" y="976.70" font-size="13.33" text-anchor="middle">12</text>
<text x="236.00" y="976.70" font-size="13.33" text-anchor="middle">18</text>
<text x="291.00" y="976.70" font-size="13.33" text-anchor="middle">00</text>
<text x="346.00" y="976.70" font-size="13.33" text-anchor="middle">06</text>
<text x="401.00" y="976.70" font-size="13.33" text-anchor="middle">12</text>
<text x="457.00" y="976.70" font-size="13.33" text-anchor="middle">18</text>
<text x="512.00" y="976.70" font-size="13.33" text-anchor="middle">00</text>
<text x="567.00" y="976.70" font-size="13.33" text-anchor="middle">06</text>
<text x="622.00" y="976.70" font-size="13.33" text-anchor="middle">12</text>
<text x="678.00" y="976.70" font-size="13.33" text-anchor="middle">18</text>
<text x="733.00" y="976.70" font-size="13.33" text-anchor="middle">00</text>
<text x="410.00" y="991.20" font-size="13.33" text-anchor="middle">SEČ [h]</text>
<text x="290.70" y="820.00" font-size="13.33" text-anchor="middle">18.12. Čt</text>
<text x="511.70" y="820.00" font-size="13.33" text-anchor="middle">19.12. Pá</text>
<text x="732.70" y="820.00" font-size="13.33" text-anchor="middle">20.12. So</text>
<text transform="translate(26.2,895.8) rotate(-90)" x="0" y="0" font-size="13.33" text-anchor="middle">Tlak [hPa]</text>
<polygon points="80.50,1158.5 80.50,1030.10 89.71,1031.40 98.92,1034.50 108.12,1027.60 117.33,1027.25 126.54,1029.50 135.75,1034.50 144.96,1039.50 154.17,1028.25 163.38,1030.50 172.58,1028.10 181.79,1027.60 191.00,1027.00 200.21,1029.50 209.42,1032.25 218.62,1031.40 227.83,1033.90 237.04,1046.40 246.25,1047.60 255.46,1042.25 264.67,1059.00 273.88,1062.25 283.08,1033.50 292.29,1036.00 301.50,1067.60 310.71,1078.25 319.92,1079.25 329.12,1065.75 338.33,1027.00 347.54,1042.00 356.75,1043.00 365.96,1048.25 375.17,1045.10 384.38,1080.75 393.58,1149.50 402.79,1158.50 412.00,1158.50 421.21,1158.50 430.42,1158.50 439.62,1158.50 448.83,1158.50 458.04,1120.10 467.25,1136.40 476.46,1134.50 485.67,1136.40 494.88,1136.40 504.08,1138.25 513.29,1100.00 522.50,1067.60 531.71,1062.60 540.92,1046.20 550.12,1044.25 559.33,1038.90 568.54,1031.40 577.75,1031.40 586.96,1037.00 596.17,1041.00 605.38,1042.60 614.58,1046.40 623.79,1042.00 633.00,1048.00 642.21,1075.25 651.42,1056.50 660.62,1072.25 669.83,1079.75 679.04,1122.50 688.25,1114.25 697.46,1106.75 706.67,1133.00 715.88,1139.00 725.08,1158.50 734.29,1158.50 743.50,1094.00 743.50,1158.5" fill="#dcdcdc" stroke="none" shape-rendering="crispEdges"/>
<polygon points="80.50,1158.5 80.50,1155.10 89.71,1158.50 98.92,1152.00 108.12,1087.00 117.33,1079.75 126.54,1132.00 135.75,1158.50 144.96,1158.50 154.17,1158.50 163.38,1158.50 172.58,1158.50 181.79,1158.50 191.00,1158.50 200.21,1158.50 209.42,1158.50 218.62,1158.50 227.83,1158.50 237.04,1158.50 246.25,1158.50 255.46,1158.50 264.67,1158.50 273.88,1158.50 283.08,1158.50 292.29,1158.50 301.50,1158.50 310.71,1142.00 319.92,1135.75 329.12,1109.50 338.33,1027.00 347.54,1043.00 356.75,1044.00 365.96,1048.25 375.17,1045.10 384.38,1080.75 393.58,1149.50 402.79,1158.50 412.00,1158.50 421.21,1158.50 430.42,1158.50 439.62,1158.50 448.83,1158.50 458.04,1120.10 467.25,1136.40 476.46,1134.50 485.67,1136.40 494.88,1136.40 504.08,1138.25 513.29,1100.00 522.50,1067.60 531.71,1062.60 540.92,1046.20 550.12,1044.25 559.33,1038.90 568.54,1031.40 577.75,1031.40 586.96,1037.00 596.17,1041.00 605.38,1042.60 614.58,1046.40 623.79,1042.00 633.00,1048.00 642.21,1075.25 651.42,1056.50 660.62,1072.25 669.83,1079.75 679.04,1122.50 688.25,1114.25 697.46,1106.75 706.67,1133.00 715.88,1139.00 725.08,1158.50 734.29,1158.50 743.50,1094.00 743.50,1158.5" fill="#666666" stroke="none" shape-rendering="crispEdges"/>
<clipPath id="c5"><rect x="80" y="1026" width="664" height="133"/></clipPath>
<polyline points="80.50,1041.40 89.71,1040.50 98.92,1047.60 108.12,1047.60 117.33,1046.40 126.54,1050.10 135.75,1065.50 144.96,1051.40 154.17,1038.25 163.38,1058.25 172.58,1045.00 181.79,1037.60 191.00,1030.50 200.21,1042.60 209.42,1049.25 218.62,1046.40 227.83,1070.10 237.04,1059.50 246.25,1067.00 255.46,1089.50 264.67,1122.50 273.88,1118.25 283.08,1103.50 292.29,1131.40 301.50,1137.25 310.71,1121.40 319.92,1107.40 329.12,1108.00 338.33,1124.50 347.54,1138.90 356.75,1153.25 365.96,1157.00 375.17,1156.40 384.38,1158.50 393.58,1158.50 402.79,1158.50 412.00,1158.50 421.21,1158.50 430.42,1158.50 439.62,1158.50 448.83,1158.50 458.04,1158.50 467.25,1158.50 476.46,1158.50 485.67,1158.50 494.88,1158.50 504.08,1158.50 513.29,1158.50 522.50,1158.50 531.71,1158.50 540.92,1158.50 550.12,1158.50 559.33,1158.50 568.54,1158.50 577.75,1158.50 586.96,1158.50 596.17,1158.50 605.38,1158.50 614.58,1158.50 623.79,1158.50 633.00,1158.50 642.21,1158.50 651.42,1158.50 660.62,1158.50 669.83,1158.50 679.04,1158.50 688.25,1158.50 697.46,1158.50 706.67,1158.50 715.88,1158.50 725.08,1158.50 734.29,1158.50 743.50,1158.50" fill="none" stroke="#0000ff" stroke-width="1" stroke-linejoin="round" stroke-linecap="round" shape-rendering="crispEdges" clip-path="url(#c5)"/>
<polyline points="80.50,1061.40 89.71,1069.50 98.92,1061.75 108.12,1038.25 117.33,1044.50 126.54,1047.60 135.75,1058.25 144.96,1072.60 154.17,1041.40 163.38,1036.40 172.58,1032.25 181.79,1044.50 191.00,1037.25 200.21,1043.90 209.42,1060.50 218.62,1055.50 227.83,1047.60 237.04,1109.50 246.25,1093.25 255.46,1054.50 264.67,1069.80 273.88,1074.25 283.08,1036.00 292.29,1038.25 301.50,1072.00 310.71,1107.00 319.92,1127.00 329.12,1132.60 338.33,1135.10 347.54,1147.00 356.75,1158.50 365.96,1158.50 375.17,1158.50 384.38,1158.50 393.58,1158.50 402.79,1158.50 412.00,1158.50 421.21,1158.50 430.42,1158.50 439.62,1158.50 448.83,1158.50 458.04,1158.50 467.25,1158.50 476.46,1158.50 485.67,1158.50 494.88,1158.50 504.08,1158.50 513.29,1158.50 522.50,1158.50 531.71,1158.50 540.92,1158.50 550.12,1158.50 559.33,1158.50 568.54,1158.50 577.75,1158.50 586.96,1158.50 596.17,1158.50 605.38,1158.50 614.58,1158.50 623.79,1158.50 633.00,1158.50 642.21,1158.50 651.42,1158.50 660.62,1158.50 669.83,1158.50 679.04,1158.50 688.25,1158.50 697.46,1158.50 706.67,1158.50 715.88,1158.50 725.08,1158.50 734.29,1158.50 743.50,1158.50" fill="none" stroke="#ff6400" stroke-width="1" stroke-linejoin="round" stroke-linecap="round" shape-rendering="crispEdges" clip-path="url(#c5)"/>
<polyline points="80.50,1030.10 89.71,1031.40 98.92,1034.50 108.12,1027.60 117.33,1027.25 126.54,1029.50 135.75,1034.50 144.96,1039.50 154.17,1028.25 163.38,1030.50 172.58,1028.10 181.79,1027.60 191.00,1027.00 200.21,1029.50 209.42,1032.25 218.62,1031.40 227.83,1033.90 237.04,1046.40 246.25,1047.60 255.46,1042.25 264.67,1059.00 273.88,1062.25 283.08,1033.50 292.29,1036.00 301.50,1067.60 310.71,1078.25 319.92,1079.25 329.12,1065.75 338.33,1027.00 347.54,1042.00 356.75,1043.00 365.96,1048.25 375.17,1045.10 384.38,1080.75 393.58,1149.50 402.79,1158.50 412.00,1158.50 421.21,1158.50 430.42,1158.50 439.62,1158.50 448.83,1158.50 458.04,1120.10 467.25,1136.40 476.46,1134.50 485.67,1136.40 494.88,1136.40 504.08,1138.25 513.29,1100.00 522.50,1067.60 531.71,1062.60 540.92,1046.20 550.12,1044.25 559.33,1038.90 568.54,1031.40 577.75,1031.40 586.96,1037.00 596.17,1041.00 605.38,1042.60 614.58,1046.40 623.79,1042.00 633.00,1048.00 642.21,1075.25 651.42,1056.50 660.62,1072.25 669.83,1079.75 679.04,1122.50 688.25,1114.25 697.46,1106.75 706.67,1133.00 715.88,1139.00 725.08,1158.50 734.29,1158.50 743.50,1094.00" fill="none" stroke="#000000" stroke-width="1" stroke-linejoin="round" stroke-linecap="round" shape-rendering="crispEdges" clip-path="url(#c5)"/>
<path d="M126.5,1159V1026.5M181.5,1159V1026.5M237.5,1159V1026.5M292.5,1159V1026.5M347.5,1159V1026.5M402.5,1159V1026.5M458.5,1159V1026.5M513.5,1159V1026.5M568.5,1159V1026.5M623.5,1159V1026.5M679.5,1159V1026.5M734.5,1159V1026.5M80,1132.5H743.5M80,1105.5H743.5M80,1079.5H743.5M80,1052.5H743.5" stroke="#000000" stroke-width="1" stroke-dasharray="2 2" fill="none"/>
<path d="M89.5,1158.5v-4.5M98.5,1158.5v-4.5M108.5,1158.5v-4.5M117.5,1158.5v-4.5M126.5,1158.5v-8.5M135.5,1158.5v-4.5M144.5,1158.5v-4.5M154.5,1158.5v-4.5M163.5,1158.5v-4.5M172.5,1158.5v-4.5M181.5,1158.5v-8.5M190.5,1158.5v-4.5M200.5,1158.5v-4.5M209.5,1158.5v-4.5M218.5,1158.5v-4.5M227.5,1158.5v-4.5M237.5,1158.5v-8.5M246.5,1158.5v-4.5M255.5,1158.5v-4.5M264.5,1158.5v-4.5M273.5,1158.5v-4.5M283.5,1158.5v-4.5M292.5,1158.5v-8.5M301.5,1158.5v-4.5M310.5,1158.5v-4.5M319.5,1158.5v-4.5M329.5,1158.5v-4.5M338.5,1158.5v-4.5M347.5,1158.5v-8.5M356.5,1158.5v-4.5M365.5,1158.5v-4.5M375.5,1158.5v-4.5M384.5,1158.5v-4.5M393.5,1158.5v-4.5M402.5,1158.5v-8.5M412.5,1158.5v-4.5M421.5,1158.5v-4.5M430.5,1158.5v-4.5M439.5,1158.5v-4.5M448.5,1158.5v-4.5M458.5,1158.5v-8.5M467.5,1158.5v-4.5M476.5,1158.5v-4.5M485.5,1158.5v-4.5M494.5,1158.5v-4.5M504.5,1158.5v-4.5M513.5,1158.5v-8.5M522.5,1158.5v-4.5M531.5,1158.5v-4.5M540.5,1158.5v-4.5M550.5,1158.5v-4.5M559.5,1158.5v-4.5M568.5,1158.5v-8.5M577.5,1158.5v-4.5M586.5,1158.5v-4.5M596.5,1158.5v-4.5M605.5,1158.5v-4.5M614.5,1158.5v-4.5M623.5,1158.5v-8.5M632.5,1158.5v-4.5M642.5,1158.5v-4.5M651.5,1158.5v-4.5M660.5,1158.5v-4.5M669.5,1158.5v-4.5M679.5,1158.5v-8.5M688.5,1158.5v-4.5M697.5,1158.5v-4.5M706.5,1158.5v-4.5M715.5,1158.5v-4.5M725.5,1158.5v-4.5M734.5,1158.5v-8.5M292.5,1026.5v8.5M513.5,1026.5v8.5M734.5,1026.5v8.5M80.5,1151.5h4.5M743.5,1151.5h-4.5M80.5,1145.5h4.5M743.5,1145.5h-4.5M80.5,1138.5h4.5M743.5,1138.5h-4.5M80.5,1132.5h8.5M743.5,1132.5h-8.5M80.5,1125.5h4.5M743.5,1125.5h-4.5M80.5,1118.5h4.5M743.5,1118.5h-4.5M80.5,1112.5h4.5M743.5,1112.5h-4.5M80.5,1105.5h8.5M743.5,1105.5h-8.5M80.5,1099.5h4.5M743.5,1099.5h-4.5M80.5,1092.5h4.5M743.5,1092.5h-4.5M80.5,1085.5h4.5M743.5,1085.5h-4.5M80.5,1079.5h8.5M743.5,1079.5h-8.5M80.5,1072.5h4.5M743.5,1072.5h-4.5M80.5,1066.5h4.5M743.5,1066.5h-4.5M80.5,1059.5h4.5M743.5,1059.5h-4.5M80.5,1052.5h8.5M743.5,1052.5h-8.5M80.5,1046.5h4.5M743.5,1046.5h-4.5M80.5,1039.5h4.5M743.5,1039.5h-4.5M80.5,1033.5h4.5M743.5,1033.5h-4.5" stroke="#000" stroke-width="1" fill="none"/>
<rect x="80.5" y="1026.5" width="663" height="132" fill="none" stroke="#000" stroke-width="1"/>
<text x="69.40" y="1162.20" font-size="13.33" text-anchor="end">0</text>
<text x="69.40" y="1135.80" font-size="13.33" text-anchor="end">20</text>
<text x="69.40" y="1109.40" font-size="13.33" text-anchor="end">40</text>
<text x="69.40" y="1083.00" font-size="13.33" text-anchor="end">60</text>
<text x="69.40" y="1056.60" font-size="13.33" text-anchor="end">80</text>
<text x="69.40" y="1030.20" font-size="13.33" text-anchor="end">100</text>
<text x="754.10" y="1162.20" font-size="13.33" text-anchor="start">0</text>
<text x="754.10" y="1135.80" font-size="13.33" text-anchor="start">20</text>
<text x="754.10" y="1109.40" font-size="13.33" text-anchor="start">40</text>
<text x="754.10" y="1083.00" font-size="13.33" text-anchor="start">60</text>
<text x="754.10" y="1056.60" font-size="13.33" text-anchor="start">80</text>
<text x="754.10" y="1030.20" font-size="13.33" text-anchor="start">100</text>
<text x="125.00" y="1174.70" font-size="13.33" text-anchor="middle">06</text>
<text x="180.00" y="1174.70" font-size="13.33" text-anchor="middle">12</text>
<text x="236.00" y="1174.70" font-size="13.33" text-anchor="middle">18</text>
<text x="291.00" y="1174.70" font-size="13.33" text-anchor="middle">00</text>
<text x="346.00" y="1174.70" font-size="13.33" text-anchor="middle">06</text>
<text x="401.00" y="1174.70" font-size="13.33" text-anchor="middle">12</text>
<text x="457.00" y="1174.70" font-size="13.33" text-anchor="middle">18</text>
<text x="512.00" y="1174.70" font-size="13.33" text-anchor="middle">00</text>
<text x="567.00" y="1174.70" font-size="13.33" text-anchor="middle">06</text>
<text x="622.00" y="1174.70" font-size="13.33" text-anchor="middle">12</text>
<text x="678.00" y="1174.70" font-size="13.33" text-anchor="middle">18</text>
<text x="733.00" y="1174.70" font-size="13.33" text-anchor="middle">00</text>
<text x="410.00" y="1188.50" font-size="13.33" text-anchor="middle">SEČ [h]</text>
<text x="290.70" y="1018.00" font-size="13.33" text-anchor="middle">18.12. Čt</text>
<text x="511.70" y="1018.00" font-size="13.33" text-anchor="middle">19.12. Pá</text>
<text x="732.70" y="1018.00" font-size="13.33" text-anchor="middle">20.12. So</text>
<text transform="translate(26.5,1092.2) rotate(-90)" x="0" y="0" font-size="13.33" text-anchor="middle">Oblačnost - pokrytí [%]</text>
</g>
</svg>
</body></html>
